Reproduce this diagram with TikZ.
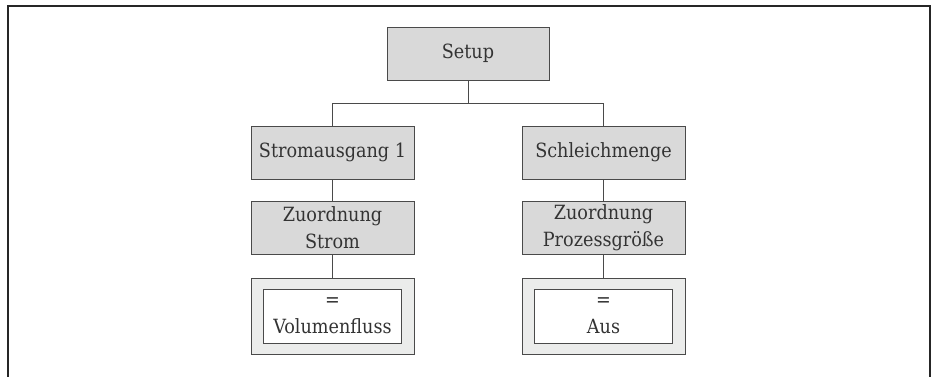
\documentclass[tikz,border=0pt]{standalone}
\usepackage{fontspec}
\setmainfont{DejaVu Serif Condensed}
\usepackage{tikz}
\usetikzlibrary{positioning}
\definecolor{boxgray}{HTML}{D9D9D9}
\definecolor{valgray}{HTML}{EBECEB}
\definecolor{edgegray}{HTML}{4A4A4A}

\begin{document}
\begin{tikzpicture}[x=1pt,y=-1pt,
  menu/.style={draw=edgegray, fill=boxgray, minimum width=163pt, minimum height=53pt,
    inner sep=0pt, align=center, text=black!80, font=\fontsize{19.6}{27}\selectfont},
  valframe/.style={draw=edgegray, fill=valgray, minimum width=163pt, minimum height=76pt, inner sep=0pt},
  valbox/.style={draw=edgegray, fill=white, minimum width=138pt, minimum height=54pt,
    inner sep=0pt, align=center, text=black!80, font=\fontsize{19.6}{27}\selectfont},
  link/.style={draw=edgegray, line width=0.8pt}]
\useasboundingbox (0,0) rectangle (936,376);
\draw[line width=1.6pt, black!85] (8,380) -- (8,6) -- (930,6) -- (930,380);

\node[menu, minimum width=162pt] (A) at (468,53.5) {Setup};
\node[menu] (B) at (332.5,152.5) {Stromausgang 1};
\node[menu] (C) [below=22pt of B] {Zuordnung\\Strom};
\node[valframe] (D) [below=23pt of C] {};
\node[valbox] (D1) at (D) {=\\Volumenfluss};
\node[menu] (E) at (603.5,152.5) {Schleichmenge};
\node[menu] (F) [below=22pt of E] {Zuordnung\\Prozessgröße};
\node[valframe] (G) [below=23pt of F] {};
\node[valbox] (G1) at (G) {=\\Aus};

\draw[link] (A.south) -- ++(0,23) -| (B.north);
\draw[link] (A.south) -- ++(0,23) -| (E.north);
\draw[link] (B) -- (C);
\draw[link] (C) -- (D);
\draw[link] (E) -- (F);
\draw[link] (F) -- (G);

\end{tikzpicture}
\end{document}
